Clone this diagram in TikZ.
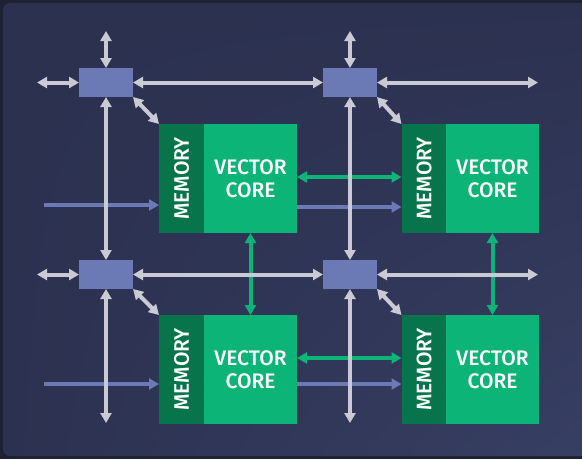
\documentclass[tikz,border=0pt]{standalone}
\usepackage{fontspec}
\setmainfont{Fira Sans}[UprightFont={* Medium}]
\usepackage{tikz}
\usetikzlibrary{arrows.meta,shadings}

\definecolor{bgdark}{HTML}{1D2133}
\definecolor{bgpanel}{HTML}{2C3150}
\definecolor{bgpanellt}{HTML}{373F63}
\definecolor{swblue}{HTML}{6B7AB4}
\definecolor{memgreen}{HTML}{07744B}
\definecolor{coregreen}{HTML}{0CB477}
\definecolor{linkgrey}{HTML}{C9CAD3}

\begin{document}
\begin{tikzpicture}[
  x=1pt, y=-1pt,
  sw/.style={fill=swblue, minimum width=54pt, minimum height=29pt, inner sep=0pt, outer sep=0pt},
  % rotated: north is the left side, north east the top left corner
  mem/.style={fill=memgreen, minimum width=109pt, minimum height=45pt, inner sep=0pt, outer sep=0pt,
              text=white, font=\fontsize{21}{23}\selectfont, rotate=90},
  core/.style={fill=coregreen, minimum width=93pt, minimum height=109pt, inner sep=0pt, outer sep=0pt,
               text=white, align=center, font=\fontsize{21}{23.5}\selectfont},
  gl/.style={{Triangle[length=10pt,width=11pt]}-{Triangle[length=10pt,width=11pt]}, line width=4pt, draw=linkgrey},
  gn/.style={{Triangle[length=10pt,width=11pt]}-{Triangle[length=10pt,width=11pt]}, line width=4pt, draw=coregreen},
  bl/.style={-{Triangle[length=10pt,width=11pt]}, line width=4pt, draw=swblue}
]

% ---------- background ----------
\useasboundingbox (0,0) rectangle (582,459);
\fill[bgdark] (0,0) rectangle (582,459);
\shade[rounded corners=7pt, upper left=bgpanel, upper right=bgpanel, lower left=bgpanel,
       lower right=bgpanellt] (3,3) rectangle (595,456);

% ---------- switches ----------
\node[sw] (s1) at (106,82.5)  {};
\node[sw] (s2) at (350,82.5)  {};
\node[sw] (s3) at (106,274.5) {};
\node[sw] (s4) at (350,274.5) {};

% ---------- memory + vector core blocks ----------
\node[mem]  (m1) at (181.5,178.5) {MEMORY};
\node[core] (c1) at (250.5,178.5) {VECTOR\\CORE};
\node[mem]  (m2) at (424,178.5)   {MEMORY};
\node[core] (c2) at (492.5,178.5) {VECTOR\\CORE};
\node[mem]  (m3) at (181.5,369.5) {MEMORY};
\node[core] (c3) at (250.5,369.5) {VECTOR\\CORE};
\node[mem]  (m4) at (424,369.5)   {MEMORY};
\node[core] (c4) at (492.5,369.5) {VECTOR\\CORE};

% ---------- free ends of the mesh ----------
\coordinate (n1) at (106,31);
\coordinate (n2) at (350,31);
\coordinate (w1) at (37,82.5);
\coordinate (w3) at (37,274.5);
\coordinate (e2) at (538,82.5);
\coordinate (e4) at (538,274.5);
\coordinate (d3) at (106,423);
\coordinate (d4) at (350,423);
\coordinate (in1) at (44,205);
\coordinate (in3) at (44,384);

% ---------- inputs ----------
\draw[bl] (in1) -- (in1 -| m1.north);
\draw[bl] (in3) -- (in3 -| m3.north);
\draw[bl] (c1.east |- 0,207) -- (m2.north |- 0,207);
\draw[bl] (c3.east |- 0,384) -- (m4.north |- 0,384);

% ---------- core to core ----------
\draw[gn] (c1.east |- 0,177) -- (m2.north |- 0,177);
\draw[gn] (c3.east |- 0,358) -- (m4.north |- 0,358);
\draw[gn] (c1.south) -- (c3.north);
\draw[gn] (c2.south) -- (c4.north);

% ---------- mesh links ----------
\draw[gl] (s1.north) -- (n1);
\draw[gl] (s2.north) -- (n2);
\draw[gl] (s1.west) -- (w1);
\draw[gl] (s3.west) -- (w3);
\draw[gl] (s2.east) -- (e2);
\draw[gl] (s4.east) -- (e4);
\draw[gl] (s3.south) -- (d3);
\draw[gl] (s4.south) -- (d4);
\draw[gl] (s1.east) -- (s2.west);
\draw[gl] (s3.east) -- (s4.west);
\draw[gl] (s1.south) -- (s3.north);
\draw[gl] (s2.south) -- (s4.north);

% ---------- switch to memory ----------
\draw[gl] (s1.south east) -- (m1.north east);
\draw[gl] (s2.south east) -- (m2.north east);
\draw[gl] (s3.south east) -- (m3.north east);
\draw[gl] (s4.south east) -- (m4.north east);

\end{tikzpicture}
\end{document}
